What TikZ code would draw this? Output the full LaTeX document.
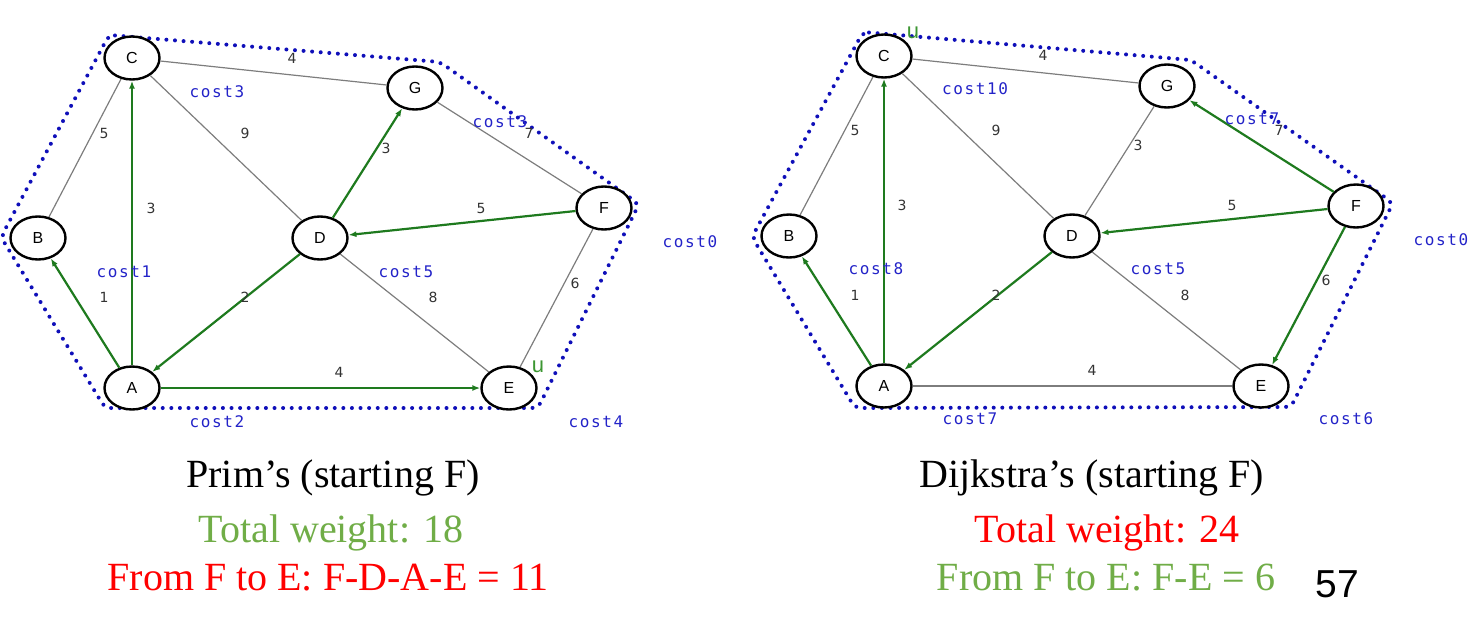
\documentclass[tikz,border=0pt]{standalone}
\usepackage{fontspec}
\setmainfont{Liberation Serif}
\newfontfamily\nodefont{Liberation Sans}
\newfontfamily\wtfont{DejaVu Sans}
\newfontfamily\costfont[LetterSpace=10]{DejaVu Sans Mono}
\usepackage{xcolor}
\usepackage{tikz}
\usetikzlibrary{arrows.meta,shapes,shapes.geometric}
\definecolor{treegreen}{RGB}{30,122,30}
\definecolor{seengreen}{RGB}{60,150,50}
\definecolor{costblue}{RGB}{35,35,200}
\definecolor{dotblue}{RGB}{15,15,185}
\definecolor{textgreen}{RGB}{112,173,71}
\definecolor{edgegray}{RGB}{125,125,125}

\begin{document}
\begin{tikzpicture}[x=1pt,y=-1pt]
            \tikzstyle{vertex}=[draw,ellipse,fill=white,line width=2.4pt,minimum width=55pt,minimum height=43pt,inner sep=0pt,font=\nodefont\fontsize{16}{18}\selectfont];
            \tikzstyle{plain}=[draw=edgegray,line width=1.2pt];
            \tikzstyle{tree}=[draw=treegreen,line width=2.2pt,-{Latex[length=8pt,width=6pt]}];
            \tikzstyle{wt}=[inner sep=1pt,text=black!80,font=\wtfont\fontsize{14}{16}\selectfont];
            \tikzstyle{cost}=[inner sep=1pt,text=costblue,font=\costfont\fontsize{16}{18}\selectfont];
            \tikzstyle{seen}=[inner sep=0pt,text=seengreen,font=\nodefont\fontsize{22}{22}\selectfont];
            \tikzstyle{hull}=[draw=dotblue,line width=4pt,line cap=round,dash pattern=on 0pt off 8.6pt,rounded corners=6pt];
            \tikzstyle{caption}=[inner sep=0pt,anchor=base,font=\fontsize{40}{44}\selectfont];
            \useasboundingbox (0, 0) rectangle (1477, 619);
            % Prim's
            \path[hull] (109, 35) -- (440, 62) -- (639, 204) -- (538, 408) -- (105, 408) -- (1, 237) -- cycle;
            \node[vertex] (pc) at (132, 58) {C};
            \node[vertex] (pg) at (415, 88) {G};
            \node[vertex] (pb) at (38, 238) {B};
            \node[vertex] (pd) at (320, 238) {D};
            \node[vertex] (pf) at (604, 208) {F};
            \node[vertex] (pa) at (132, 388) {A};
            \node[vertex] (pe) at (509, 388) {E};
            \path[draw] [plain] (pc) -- (pb);
            \path[draw] [plain] (pc) -- (pg);
            \path[draw] [plain] (pc) -- (pd);
            \path[draw] [plain] (pg) -- (pf);
            \path[draw] [plain] (pd) -- (pe);
            \path[draw] [plain] (pf) -- (pe);
            \path[draw] [tree] (pa) -- (pb);
            \path[draw] [tree] (pa) -- (pc);
            \path[draw] [tree] (pd) -- (pa);
            \path[draw] [tree] (pd) -- (pg);
            \path[draw] [tree] (pf) -- (pd);
            \path[draw] [tree] (pa) -- (pe);
            \node[wt] (pwcg) at (292, 58) {4};
            \node[wt] (pwcd) at (245, 133) {9};
            \node[wt] (pwcb) at (104, 133) {5};
            \node[wt] (pwac) at (151, 208) {3};
            \node[wt] (pwab) at (104, 297) {1};
            \node[wt] (pwdg) at (386, 148) {3};
            \node[wt] (pwfd) at (481, 208) {5};
            \node[wt] (pwgf) at (529, 133) {7};
            \node[wt] (pwda) at (245, 297) {2};
            \node[wt] (pwde) at (433, 297) {8};
            \node[wt] (pwfe) at (575, 283) {6};
            \node[wt] (pwae) at (339, 372) {4};
            \node[cost] (pkc) at (217, 92) {cost3};
            \node[cost] (pkg) at (500, 122) {cost3};
            \node[cost] (pkf) at (690, 242) {cost0};
            \node[cost] (pkb) at (124, 272) {cost1};
            \node[cost] (pkd) at (406, 272) {cost5};
            \node[cost] (pka) at (217, 422) {cost2};
            \node[cost] (pke) at (596, 422) {cost4};
            \node[seen] (pue) at (538, 367) {u};
            % Dijkstra's
            \path[hull] (863, 32) -- (1191, 60) -- (1393, 203) -- (1291, 407) -- (855, 408) -- (752, 237) -- cycle;
            \node[vertex] (dc) at (884, 56) {C};
            \node[vertex] (dg) at (1167, 86) {G};
            \node[vertex] (db) at (789, 236) {B};
            \node[vertex] (dd) at (1072, 236) {D};
            \node[vertex] (df) at (1356, 206) {F};
            \node[vertex] (da) at (884, 386) {A};
            \node[vertex] (de) at (1261, 386) {E};
            \path[draw] [plain] (dc) -- (db);
            \path[draw] [plain] (dc) -- (dg);
            \path[draw] [plain] (dc) -- (dd);
            \path[draw] [plain] (dg) -- (dd);
            \path[draw] [plain] (dd) -- (de);
            \path[draw] [plain] (da) -- (de);
            \path[draw] [tree] (da) -- (db);
            \path[draw] [tree] (da) -- (dc);
            \path[draw] [tree] (dd) -- (da);
            \path[draw] [tree] (df) -- (dd);
            \path[draw] [tree] (df) -- (dg);
            \path[draw] [tree] (df) -- (de);
            \node[wt] (dwcg) at (1043, 55) {4};
            \node[wt] (dwcd) at (996, 130) {9};
            \node[wt] (dwcb) at (855, 130) {5};
            \node[wt] (dwac) at (902, 205) {3};
            \node[wt] (dwab) at (855, 295) {1};
            \node[wt] (dwdg) at (1138, 145) {3};
            \node[wt] (dwfd) at (1232, 205) {5};
            \node[wt] (dwgf) at (1279, 130) {7};
            \node[wt] (dwda) at (996, 295) {2};
            \node[wt] (dwde) at (1185, 295) {8};
            \node[wt] (dwfe) at (1326, 280) {6};
            \node[wt] (dwae) at (1092, 370) {4};
            \node[cost] (dkc) at (975, 89) {cost10};
            \node[cost] (dkg) at (1252, 119) {cost7};
            \node[cost] (dkf) at (1441, 240) {cost0};
            \node[cost] (dkb) at (876, 269) {cost8};
            \node[cost] (dkd) at (1158, 269) {cost5};
            \node[cost] (dka) at (970, 419) {cost7};
            \node[cost] (dke) at (1346, 419) {cost6};
            \node[seen] (duc) at (913, 33) {u};
            % captions
            \node[caption] (primname) at (333, 487) {Prim’s (starting F)};
            \node[caption,text=textgreen] (primtotal) at (331, 542) {Total weight: 18};
            \node[caption,text=red] (primpath) at (328, 590) {From F to E: F-D-A-E = 11};
            \node[caption] (dijname) at (1092, 487) {Dijkstra’s (starting F)};
            \node[caption,text=red] (dijtotal) at (1107, 542) {Total weight: 24};
            \node[caption,text=textgreen] (dijpath) at (1106, 590) {From F to E: F-E = 6};
            \node[caption,font=\nodefont\fontsize{39}{44}\selectfont] (slideno) at (1337, 597) {57};
        \end{tikzpicture}
\end{document}
